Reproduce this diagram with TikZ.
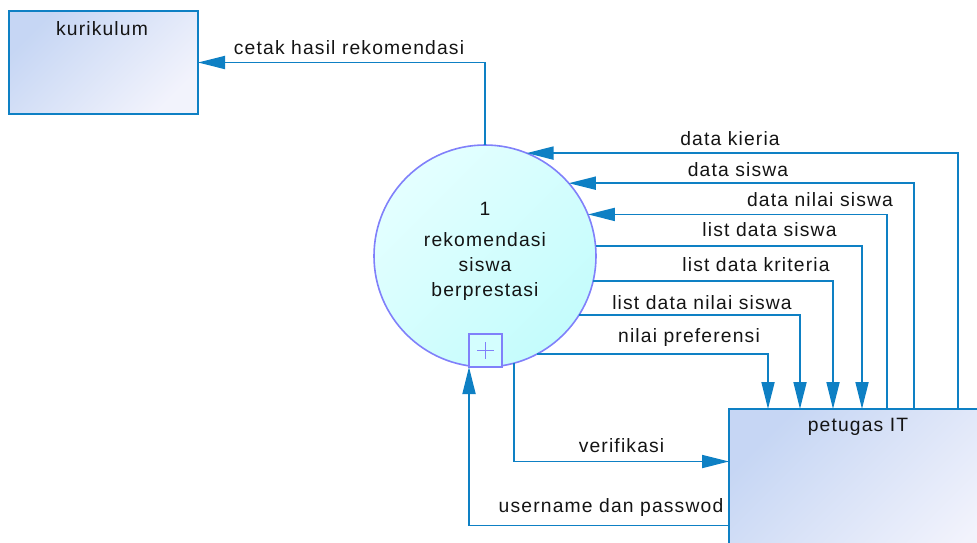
\documentclass[tikz,border=0pt]{standalone}
\usepackage{fontspec}
\setmainfont{Liberation Sans}[LetterSpace=6]
\usetikzlibrary{arrows.meta,calc}
\definecolor{flowc}{RGB}{14,128,196}
\definecolor{circb}{RGB}{128,128,250}
\definecolor{circA}{RGB}{228,255,255}
\definecolor{circB}{RGB}{196,252,252}
\definecolor{boxA}{RGB}{198,214,244}
\definecolor{boxB}{RGB}{242,243,252}
\begin{document}
\begin{tikzpicture}[x=1pt,y=-1pt,
  every node/.style={inner sep=0pt,outer sep=0pt},
  lbl/.style={anchor=base,font=\fontsize{19.3}{25}\selectfont,text=black!92},
  entity/.style={draw=flowc,line width=1.8pt,rectangle,top color=boxA,bottom color=boxB,shading angle=45},
  flow/.style={draw=flowc,line width=1.8pt,-{Triangle[length=27pt,width=13pt]}},
  inflow/.style={draw=flowc,line width=1.8pt,{Triangle[length=27pt,width=13pt]}-},
  line join=miter]
\useasboundingbox (0,0) rectangle (977,542);

% entities
\node[entity,minimum width=189pt,minimum height=103pt] (kur) at (103.5,62.5) {};
\node[lbl] (kurt) at (102,35) {kurikulum};
\node[entity,minimum width=271pt,minimum height=161pt] (pet) at (864.5,489.5) {};
\node[lbl] (pett) at (858,431.3) {petugas IT};

% process
\node[circle,draw=circb,line width=1.6pt,minimum size=222pt,top color=circA,bottom color=circB,shading angle=45] (proc) at (485,256) {};
\node[lbl] (pnum) at (485,215) {1};
\node[lbl,align=center,anchor=center] (ptxt) at (485,267) {rekomendasi\\siswa\\berprestasi};
\node[draw=circb,line width=1.4pt,fill=circA!50!circB,minimum size=33pt] (plus) at (485.5,350.5) {};
\draw[circb,line width=1.6pt] ($(plus.center)+(-8.5,0)$) -- ($(plus.center)+(8.5,0)$)
  ($(plus.center)+(0,-8.5)$) -- ($(plus.center)+(0,8.5)$);

% helper coordinates
\coordinate (vK) at (958,0);
\coordinate (vS) at (914,0);
\coordinate (vN) at (887,0);
\coordinate (vLS) at (862,0);
\coordinate (vLK) at (833,0);
\coordinate (vLN) at (800,0);
\coordinate (vNP) at (768,0);
\coordinate (hV) at (0,461.5);
\coordinate (hU) at (0,525.5);

% flows
\draw[flow] (proc.north) |- (kur.east);
\draw[inflow] (proc.68.1) -| (pet.north -| vK);
\draw[inflow] (proc.41.8) -| (pet.north -| vS);
\draw[inflow] (proc.22.2) -| (pet.north -| vN);
\draw[flow] (proc.5.17) -| (pet.north -| vLS);
\draw[flow] (proc.-13.55) -| (pet.north -| vLK);
\draw[flow] (proc.-32.7) -| (pet.north -| vLN);
\draw[flow] (proc.-62) -| (pet.north -| vNP);
\draw[flow] (proc.-75.9) |- (pet.west |- hV);
\draw[flow] (pet.west |- hU) -| (plus.south west);

% labels
\node[lbl] (l1) at (349,54.3) {cetak hasil rekomendasi};
\node[lbl] (l2) at (730,145) {data kieria};
\node[lbl] (l3) at (738,176) {data siswa};
\node[lbl] (l4) at (820,206.7) {data nilai siswa};
\node[lbl] (l5) at (769.5,236.7) {list data siswa};
\node[lbl] (l6) at (756,271.7) {list data kriteria};
\node[lbl] (l7) at (702,309.6) {list data nilai siswa};
\node[lbl] (l8) at (689,342) {nilai preferensi};
\node[lbl] (l9) at (621.5,452) {verifikasi};
\node[lbl] (l10) at (611,512) {username dan passwod};
\end{tikzpicture}
\end{document}
